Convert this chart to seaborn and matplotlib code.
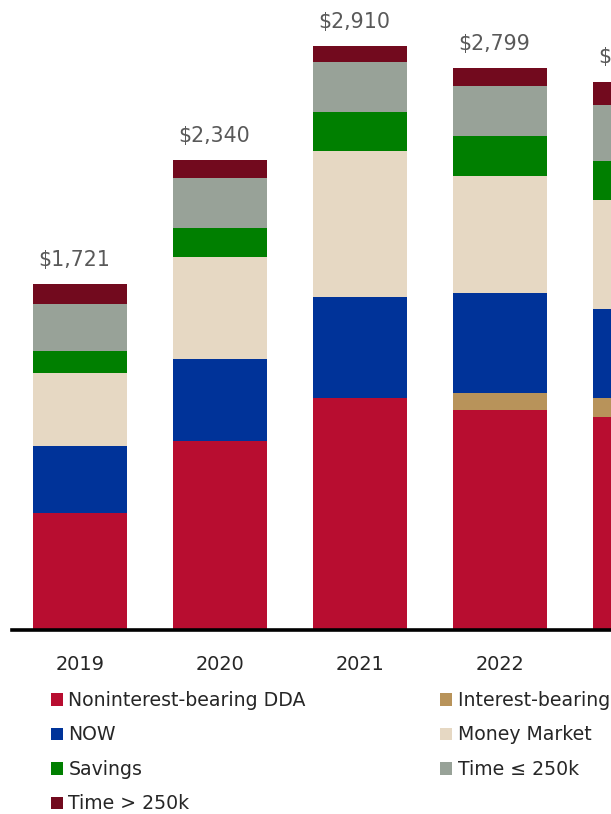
import numpy as np
import pandas as pd
import matplotlib
matplotlib.use("Agg")
import matplotlib.pyplot as plt
from matplotlib.patches import Patch
import seaborn as sns

# Deposit mix by year ($ millions)
years = ["2019", "2020", "2021", "2022", "2023"]
nonint_dda = [583, 941, 1155, 1094, 1059]
int_bearing = [0, 0, 0, 85, 95]
now = [331, 407, 503, 500, 442]
money_market = [365, 508, 725, 584, 545]
savings = [110, 145, 197, 197, 194]
time_le_250k = [236, 249, 247, 247, 278]
time_gt_250k = [96, 90, 83, 92, 118]

series_names = ["Noninterest-bearing DDA", "Interest-bearing DDA", "NOW",
                "Money Market", "Savings", "Time \u2264 250k", "Time > 250k"]
series_values = [nonint_dda, int_bearing, now, money_market, savings,
                 time_le_250k, time_gt_250k]
series_colors = ["#B80D30", "#B8935A", "#003399", "#E6D8C3", "#007F00",
                 "#98A298", "#720A1E"]

sns.set_theme(style="white")
plt.rcParams["font.family"] = ["DejaVu Sans"]

W, H = 611, 814
fig = plt.figure(figsize=(W / 100, H / 100), dpi=100)

# axes geometry in pixels
base_y = 629.5
px_per_unit = 0.2006
left_px = 11.7
center0 = 80.3
spacing = 139.9
ax = fig.add_axes([left_px / W, (H - base_y) / H, (W - left_px) / W, base_y / H])

df = pd.DataFrame({"year": years})
cum = np.cumsum(np.array(series_values), axis=0)
# paint cumulative totals from the top layer down so each layer overlays the next
for i in range(len(series_names) - 1, -1, -1):
    df["value"] = cum[i]
    sns.barplot(data=df, x="year", y="value", order=years, color=series_colors[i],
                saturation=1, width=0.672, linewidth=0, errorbar=None, ax=ax)

totals = cum[-1]
for i, t in enumerate(totals):
    ax.annotate(f"${t:,.0f}", xy=(i, t), xytext=(-4.5, 10.2), textcoords="offset points",
                ha="center", va="bottom", fontsize=14.8, color="#595959",
                annotation_clip=False)

ax.set_xlim((left_px - center0) / spacing, (W - center0) / spacing)
ax.set_ylim(0, base_y / px_per_unit)
ax.set_xlabel("")
ax.set_ylabel("")
ax.set_yticks([])
for s in ["left", "right", "top"]:
    ax.spines[s].set_visible(False)
ax.spines["bottom"].set_color("black")
ax.spines["bottom"].set_linewidth(2.6)
ax.tick_params(axis="x", length=0, pad=18.5, labelsize=13.9, labelcolor="#262626")
ax.set_facecolor("none")

handles = [Patch(facecolor=c, edgecolor="none") for c in series_colors]
col1 = [0, 2, 4, 6]
col2 = [1, 3, 5]
leg_kw = dict(loc="upper left", frameon=False, fontsize=13.6, borderpad=0,
              borderaxespad=0, handlelength=0.63, handleheight=0.63,
              handletextpad=0.3, labelspacing=0.82, labelcolor="#262626")
top_px = 691
leg1 = fig.legend([handles[k] for k in col1], [series_names[k] for k in col1],
                  bbox_to_anchor=(50.7 / W, (H - top_px) / H), **leg_kw)
leg2 = fig.legend([handles[k] for k in col2], [series_names[k] for k in col2],
                  bbox_to_anchor=(440 / W, (H - top_px) / H), **leg_kw)

fig.savefig("out.png", dpi=100)
